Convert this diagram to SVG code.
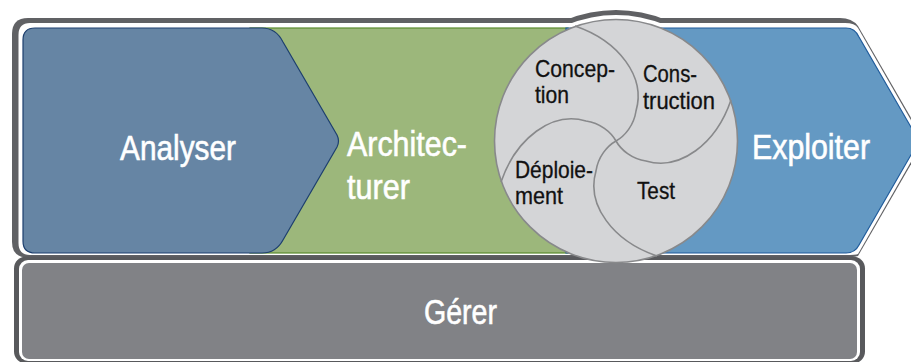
<svg xmlns="http://www.w3.org/2000/svg" width="911" height="362" viewBox="0 0 911 362">
  <style>
    .lbl { font-family: "Liberation Sans Narrow", "Liberation Sans", Arial, sans-serif; fill: #ffffff; stroke: #ffffff; stroke-width: 0.6; font-size: 35px; }
    .sub { font-family: "Liberation Sans Narrow", "Liberation Sans", Arial, sans-serif; fill: #111111; stroke: #111111; stroke-width: 0.3; font-size: 24px; }
    .arm { fill: none; stroke: #88898b; stroke-width: 1.6; }
  </style>
  <defs>
    <clipPath id="bumpClip"><rect x="480" y="0" width="280" height="26"/></clipPath>
    <path id="armPath" d="M -41,-115 C 3,-100 30,-64 20,-30 C 18,-16 9,-5 0,0"/>
  </defs>
  <rect width="911" height="362" fill="#ffffff"/>

  <!-- top frame -->
  <g id="frame">
    <path d="M 12,34 Q 12,18 28,18 H 840 Q 852,18 858,26 L 924.5,141 L 858,256 Q 852,257.5 840,257.5 H 28 Q 12,257.5 12,242 Z" fill="#606164"/>
    <g clip-path="url(#bumpClip)">
      <circle cx="616" cy="141" r="131" fill="#606164"/>
      <circle cx="616" cy="141" r="126" fill="#ffffff"/>
    </g>
    <path d="M 18.5,35 Q 18.5,23 30,23 H 845 Q 855,23 858,28 L 923,141 L 858,254 Q 856,255 845,255 H 30 Q 18.5,255 18.5,243 Z" fill="#ffffff"/>
  </g>

  <!-- Gérer -->
  <g id="gerer">
    <rect x="14" y="256.5" width="851" height="107" rx="12" fill="#58595c"/>
    <rect x="19" y="260" width="841" height="101" rx="9" fill="#ffffff"/>
    <rect x="22" y="263" width="835" height="96" rx="7" fill="#818286"/>
    <text class="lbl" x="424" y="324" textLength="73" lengthAdjust="spacingAndGlyphs">Gérer</text>
  </g>

  <!-- Architecturer -->
  <g id="architecturer">
    <rect x="250" y="28" width="318" height="225" fill="#9cb77b" stroke="#5a8a2e" stroke-width="1.2"/>
    <text class="lbl" x="347" y="156" textLength="120" lengthAdjust="spacingAndGlyphs">Architec-</text>
    <text class="lbl" x="347" y="199" textLength="63" lengthAdjust="spacingAndGlyphs">turer</text>
  </g>

  <!-- Exploiter -->
  <g id="exploiter">
    <path d="M 566,28 H 846 Q 855,28 859,37 L 919,141 L 859,245 Q 855,253 846,253 H 566 Z" fill="#6499c3" stroke="#1f5b9b" stroke-width="1.2"/>
    <text class="lbl" x="752" y="159" textLength="118" lengthAdjust="spacingAndGlyphs">Exploiter</text>
  </g>

  <!-- Analyser -->
  <g id="analyser">
    <path d="M 23,40 Q 23,28 35,28 H 262 Q 276,28 283,42 L 337,135 Q 340,141 337,147 L 283,240 Q 276,253 262,253 H 35 Q 23,253 23,241 Z" fill="#6685a4" stroke="#1d3f6e" stroke-width="1.2"/>
    <text class="lbl" x="120" y="160" textLength="116" lengthAdjust="spacingAndGlyphs">Analyser</text>
  </g>

  <!-- cycle circle -->
  <g id="cycle">
    <circle cx="616" cy="141" r="121.5" fill="#d4d5d7" stroke="#88898b" stroke-width="1.6"/>
    <g transform="translate(616,141)">
      <use href="#armPath" class="arm"/>
      <use href="#armPath" class="arm" transform="rotate(90)"/>
      <use href="#armPath" class="arm" transform="rotate(180)"/>
      <use href="#armPath" class="arm" transform="rotate(270)"/>
    </g>
    <g id="conception">
      <text class="sub" x="535" y="77" textLength="80" lengthAdjust="spacingAndGlyphs">Concep-</text>
      <text class="sub" x="535" y="102.5" textLength="34" lengthAdjust="spacingAndGlyphs">tion</text>
    </g>
    <g id="construction">
      <text class="sub" x="643" y="82" textLength="54" lengthAdjust="spacingAndGlyphs">Cons-</text>
      <text class="sub" x="643" y="109" textLength="72" lengthAdjust="spacingAndGlyphs">truction</text>
    </g>
    <g id="deploiement">
      <text class="sub" x="515" y="178" textLength="78" lengthAdjust="spacingAndGlyphs">Déploie-</text>
      <text class="sub" x="515" y="204" textLength="48" lengthAdjust="spacingAndGlyphs">ment</text>
    </g>
    <g id="test">
      <text class="sub" x="637" y="199" textLength="38" lengthAdjust="spacingAndGlyphs">Test</text>
    </g>
  </g>
</svg>
